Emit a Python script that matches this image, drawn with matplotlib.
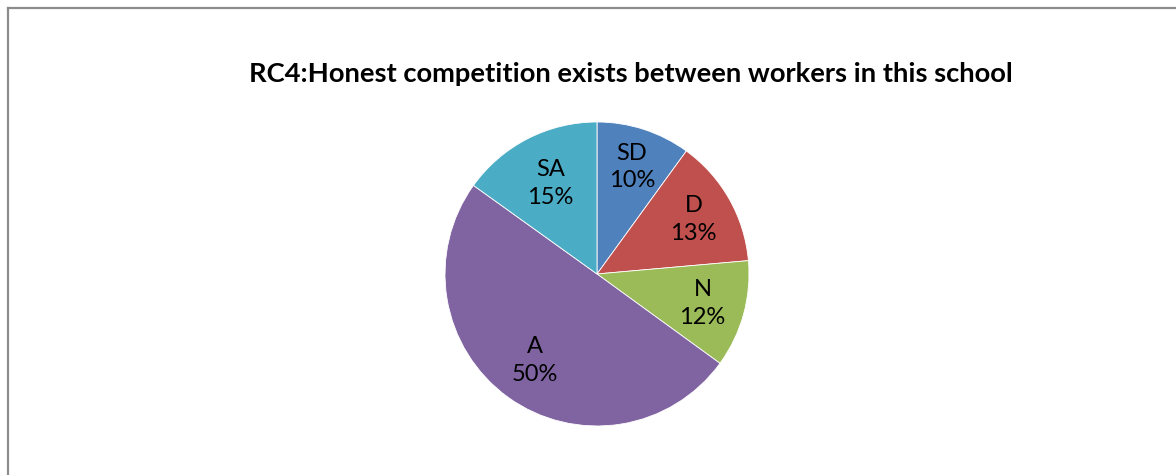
import numpy as np
import matplotlib
matplotlib.use("Agg")
import matplotlib.pyplot as plt
from matplotlib.lines import Line2D

# Chart data (slice sizes, labels as printed)
categories = ["SD", "D", "N", "A", "SA"]
shares = [10.0, 13.6, 11.4, 49.9, 15.1]
pct_labels = ["10%", "13%", "12%", "50%", "15%"]
colors = ["#4F81BD", "#C0504D", "#9BBB59", "#8064A2", "#4BACC6"]
title = "RC4:Honest competition exists between workers in this school"

# how far from centre each label sits (fraction of radius), Excel best-fit look
label_r = [0.74, 0.73, 0.72, 0.70, 0.67]

plt.rcParams['font.family'] = ['Lato', 'DejaVu Sans']

fig = plt.figure(figsize=(11.76, 4.75), dpi=100)
fig.patch.set_facecolor("white")

# Chart frame (cropped on right and bottom)
frame_color = "#8c8c8c"
fig.add_artist(Line2D([8 / 1176, 8 / 1176], [0, 1 - 8 / 475], transform=fig.transFigure,
                      color=frame_color, lw=1.6))
fig.add_artist(Line2D([8 / 1176, 1], [1 - 8 / 475, 1 - 8 / 475], transform=fig.transFigure,
                      color=frame_color, lw=1.6))

ax = fig.add_axes([0.3784, 0.1032, 0.2585, 0.64])
wedges, _ = ax.pie(shares, colors=colors, startangle=90, counterclock=False,
                   wedgeprops=dict(edgecolor="white", linewidth=0.6))
for w, c, p, r in zip(wedges, categories, pct_labels, label_r):
    mid = np.deg2rad((w.theta1 + w.theta2) / 2)
    ax.text(r * np.cos(mid), r * np.sin(mid), f"{c}\n{p}", ha="center", va="center",
            multialignment="center", fontsize=17, linespacing=1.4, color="black")
ax.set_xlim(-1, 1)
ax.set_ylim(-1, 1)
ax.set_aspect("equal")
ax.axis("off")

fig.text(631 / 1176, 1 - 74 / 475, title, ha="center", va="center",
         fontsize=19.7, fontweight="bold")

fig.savefig("out.png", dpi=100)
